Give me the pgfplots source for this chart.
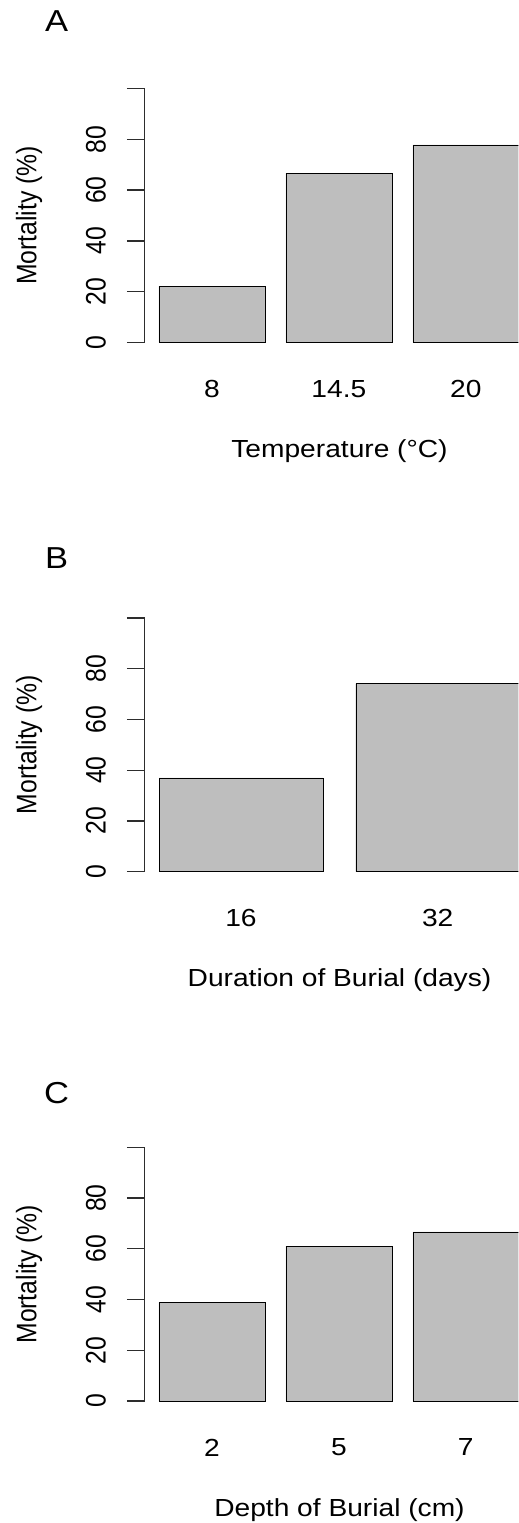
\documentclass[border=0pt]{standalone}
\usepackage{fontspec}
\setmainfont{Liberation Sans}
\newfontfamily\hfont[FakeStretch=1.14]{Liberation Sans}
\newfontfamily\vfont[FakeStretch=0.877]{Liberation Sans}
\usepackage{pgfplots}
\pgfplotsset{compat=1.18}
\definecolor{bargray}{RGB}{190,190,190}
\definecolor{edge}{RGB}{45,45,45}

\newcommand{\labfont}{\hfont\fontsize{24.7}{29}\selectfont}
\newcommand{\vlabfont}{\vfont\fontsize{28.2}{33}\selectfont}
\newcommand{\panelfont}{\hfont\fontsize{30.3}{35}\selectfont}

% plot area is cut at the right edge of the figure, as in the original
\pgfplotsset{
    mortality/.style={
        scale only axis,
        width=373.7pt, height=274pt,
        anchor=south west,
        ymin=-4, ymax=104,
        axis line style={draw=none},
        ybar, bar width=1, bar shift=0pt,
        cycle list={{fill=bargray, draw=edge, line width=1.3pt}},
        ytick={0,20,...,100},
        yticklabels={0,20,40,60,80,{}},
        ytick pos=left,
        tick align=outside,
        major tick length=17.7pt,
        ytick style={edge, line width=1.3pt},
        xtick style={draw=none},
        xtick pos=bottom,
        yticklabel style={font=\vlabfont, rotate=90, anchor=south, inner sep=0pt},
        xticklabel style={font=\labfont, anchor=north, inner sep=0pt},
        xticklabel shift=9.8pt,
        yticklabel shift=20.9pt,
        xlabel style={font=\labfont, at={(axis description cs:0.5215,-0.3175)}, anchor=north, inner sep=0pt},
        ylabel style={font=\vlabfont, at={(axis description cs:-0.3088,0.5)}, anchor=center, inner sep=0pt},
        ylabel={Mortality (\%)},
        extra description/.code={
            \draw[edge, line width=1.3pt] (rel axis cs:0,0.037037) -- (rel axis cs:0,0.962963);
        },
    }
}

\begin{document}
\begin{tikzpicture}
\useasboundingbox (0pt,0pt) rectangle (519pt,1523pt);

% A: temperature
\begin{axis}[mortality,
    at={(144.6pt,1170.5pt)},
    xmin=0.064, xmax=3.596,
    xtick={0.7,1.9,3.1}, xticklabels={8,14.5,20},
    xlabel={Temperature (°C)}]
    \addplot coordinates {(0.7,22.2) (1.9,66.7) (3.1,77.8)};
\end{axis}

% B: duration
\begin{axis}[mortality,
    at={(144.6pt,641.2pt)},
    xmin=0.112, xmax=2.392,
    xtick={0.7,1.9}, xticklabels={16,32},
    xlabel={Duration of Burial (days)}]
    \addplot coordinates {(0.7,37.0) (1.9,74.1)};
\end{axis}

% C: depth
\begin{axis}[mortality,
    at={(144.6pt,111.8pt)},
    xmin=0.064, xmax=3.596,
    xtick={0.7,1.9,3.1}, xticklabels={2,5,7},
    xlabel={Depth of Burial (cm)}]
    \addplot coordinates {(0.7,38.9) (1.9,61.1) (3.1,66.7)};
\end{axis}

\node[font=\panelfont] at (56.7pt,1502.2pt) {A};
\node[font=\panelfont] at (56.7pt,964.7pt) {B};
\node[font=\panelfont] at (56.7pt,429.7pt) {C};
\end{tikzpicture}
\end{document}
